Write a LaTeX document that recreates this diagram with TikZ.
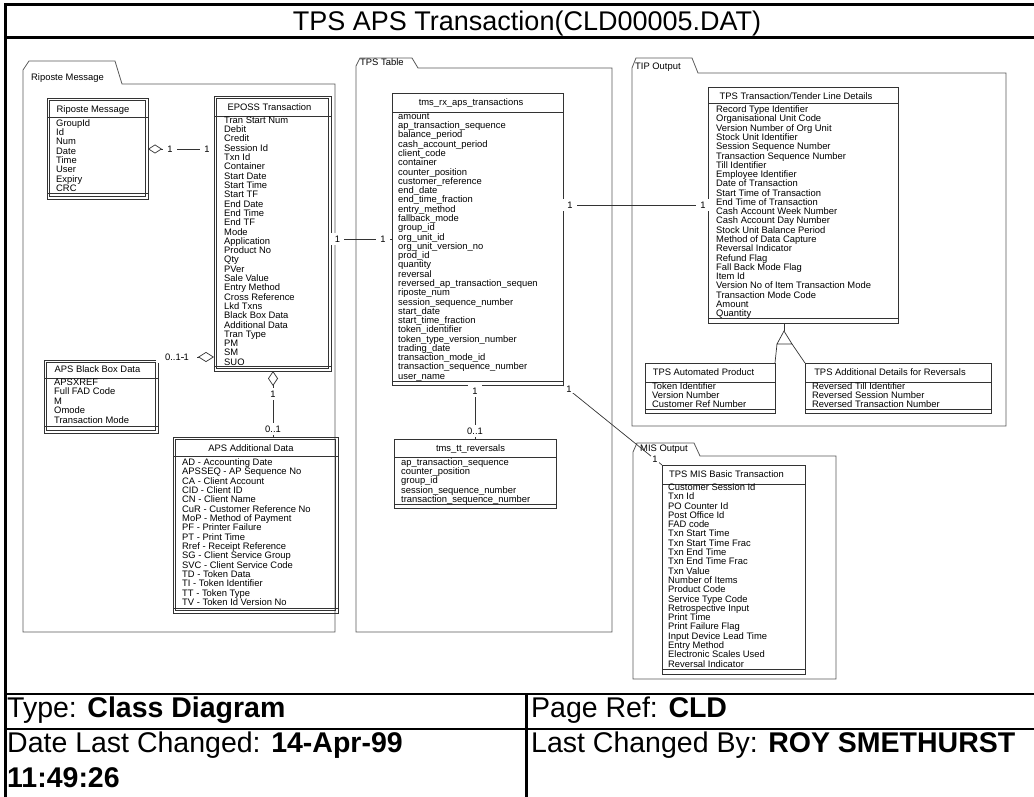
\documentclass[tikz,border=0pt]{standalone}
\usepackage{fontspec}
\setmainfont{Liberation Sans}
\usetikzlibrary{arrows.meta}
\newcommand\fs[1]{\fontsize{#1}{#1}\selectfont}
\newcommand\clsbox[8]{%
  \node[#2,minimum width={(#5)-(#3)},minimum height={(#6)-(#4)}] (#1) at (#3,#4) {};
  \draw[sepline] (#3,#7) -- (#5,#7);
  \draw[sepline] (#3,#8) -- (#5,#8);}
\newcommand\dclsbox[8]{%
  \clsbox{#1}{#2}{#3}{#4}{#5}{#6}{#7}{#8}%
  \draw[sepline] ({#3+2.2},{#4+2.2}) rectangle ({#5-2.2},{#6-2.2});}
\begin{document}
\begin{tikzpicture}[x=1pt,y=-1pt,
  pkg/.style={draw=black!65,line width=0.8pt},
  pkglabel/.style={font=\fs{9.4},inner sep=0pt,anchor=base west},
  cls/.style={draw=black!80,line width=0.7pt,inner sep=0pt,outer sep=0pt,anchor=north west},
  sepline/.style={draw=black!80,line width=0.7pt},
  hdr/.style={font=\fs{9.4},inner sep=0pt,anchor=base},
  attr/.style={font=\fs{9.4},inner sep=0pt,anchor=base west},
  assoc/.style={draw=black!80,line width=0.7pt},
  mult/.style={font=\fs{9.4},fill=white,inner xsep=4pt,inner ysep=3pt},
  big/.style={font=\fs{28.5},inner sep=0pt,anchor=base west},
]
\useasboundingbox (0,0) rectangle (1034,797);
% frame
\draw[line width=3.5pt] (5.3,797) -- (5.3,4.3) -- (1034,4.3);
\draw[line width=3pt] (5.3,38) -- (1034,38);
\draw[line width=2.3pt] (5.3,694) -- (1034,694);
\draw[line width=2.3pt] (5.3,729) -- (1034,729);
\draw[line width=2.3pt] (526.5,694) -- (526.5,797);
\node[font=\fs{27},inner sep=0pt,anchor=base] (title) at (527,31) {TPS APS Transaction(CLD00005.DAT)};
\node[big] (type) at (7,717) {Type: \textbf{Class Diagram}};
\node[big] (pref) at (531,717) {Page Ref: \textbf{CLD}};
\node[big] (date) at (7,752) {Date Last Changed: \textbf{14-Apr-99}};
\node[big] (time) at (7,787) {\textbf{11:49:26}};
\node[big] (by) at (531,752) {Last Changed By: \textbf{ROY SMETHURST}};
% packages
\draw[pkg] (23,632) -- (23,70) -- (29,61) -- (115,61) -- (122,84) -- (335,84) -- (335,632) -- cycle;
\node[pkglabel] (p1) at (31,80.4) {Riposte Message};
\draw[pkg] (356,632) -- (356,66) -- (360,58) -- (412,58) -- (418,68) -- (612,68) -- (612,632) -- cycle;
\node[pkglabel] (p2) at (360,65.4) {TPS Table};
\draw[pkg] (632,426) -- (632,68) -- (636,58) -- (692,58) -- (698,73) -- (1006,73) -- (1006,426) -- cycle;
\node[pkglabel] (p3) at (635,69.4) {TIP Output};
\draw[pkg] (633,679) -- (633,452) -- (637,443) -- (694,443) -- (700,456) -- (836,456) -- (836,679) -- cycle;
\node[pkglabel] (p4) at (640,451.4) {MIS Output};
% classes
\dclsbox{rip}{cls}{47}{98}{148}{199}{117}{193}
\node[hdr] (rip-h) at (93,112.4) {Riposte Message};
\foreach \t [count=\i from 0] in {GroupId,Id,Num,Date,Time,User,Expiry,CRC}
  \node[attr] (rip-a\i) at (56,{126.4+\i*9.3}) {\t};
\dclsbox{eposs}{cls}{214}{96}{331}{371}{116}{366}
\node[hdr] (eposs-h) at (269.5,110.4) {EPOSS Transaction};
\foreach \t [count=\i from 0] in {Tran Start Num,Debit,Credit,Session Id,Txn Id,Container,Start Date,Start Time,Start TF,End Date,End Time,End TF,Mode,Application,Product No,Qty,PVer,Sale Value,Entry Method,Cross Reference,Lkd Txns,Black Box Data,Additional Data,Tran Type,PM,SM,SUO}
  \node[attr] (eposs-a\i) at (224,{123.4+\i*9.3}) {\t};
\dclsbox{bb}{cls}{44}{360}{158}{433}{378}{426}
\node[hdr] (bb-h) at (97.5,372.4) {APS Black Box Data};
\foreach \t [count=\i from 0] in {APSXREF,Full FAD Code,M,Omode,Transaction Mode}
  \node[attr] (bb-a\i) at (54,{385.4+\i*9.5}) {\t};
\dclsbox{add}{cls}{173}{437}{338}{613}{456}{608}
\node[hdr] (add-h) at (251,451.4) {APS Additional Data};
\foreach \t [count=\i from 0] in {AD - Accounting Date,APSSEQ - AP Sequence No,CA - Client Account,CID - Client ID,CN - Client Name,CuR - Customer Reference No,MoP - Method of Payment,PF - Printer Failure,PT - Print Time,Rref - Receipt Reference,SG - Client Service Group,SVC - Client Service Code,TD - Token Data,TI - Token Identifier,TT - Token Type,TV - Token Id Version No}
  \node[attr] (add-a\i) at (182,{465.4+\i*9.33}) {\t};
\clsbox{rx}{cls}{392}{93}{563}{385}{112}{381}
\node[hdr] (rx-h) at (471,105.4) {tms\_rx\_aps\_transactions};
\foreach \t [count=\i from 0] in {amount,ap\_transaction\_sequence,balance\_period,cash\_account\_period,client\_code,container,counter\_position,customer\_reference,end\_date,end\_time\_fraction,entry\_method,fallback\_mode,group\_id,org\_unit\_id,org\_unit\_version\_no,prod\_id,quantity,reversal,reversed\_ap\_transaction\_sequen,riposte\_num,session\_sequence\_number,start\_date,start\_time\_fraction,token\_identifier,token\_type\_version\_number,trading\_date,transaction\_mode\_id,transaction\_sequence\_number,user\_name}
  \node[attr] (rx-a\i) at (398,{119.4+\i*9.28}) {\t};
\clsbox{rev}{cls}{394}{439}{556}{508}{457}{504}
\node[hdr] (rev-h) at (470.5,451.4) {tms\_tt\_reversals};
\foreach \t [count=\i from 0] in {ap\_transaction\_sequence,counter\_position,group\_id,session\_sequence\_number,transaction\_sequence\_number}
  \node[attr] (rev-a\i) at (401,{465.4+\i*9.25}) {\t};
\clsbox{tip}{cls}{708}{87}{898}{323}{103}{318}
\node[hdr] (tip-h) at (796,99.4) {TPS Transaction/Tender Line Details};
\foreach \t [count=\i from 0] in {Record Type Identifier,Organisational Unit Code,Version Number of Org Unit,Stock Unit Identifier,Session Sequence Number,Transaction Sequence Number,Till Identifier,Employee Identifier,Date of Transaction,Start Time of Transaction,End Time of Transaction,Cash Account Week Number,Cash Account Day Number,Stock Unit Balance Period,Method of Data Capture,Reversal Indicator,Refund Flag,Fall Back Mode Flag,Item Id,Version No of Item Transaction Mode,Transaction Mode Code,Amount,Quantity}
  \node[attr] (tip-a\i) at (716,{112.7+\i*9.27}) {\t};
\clsbox{ap}{cls}{645}{363}{775}{413}{382}{409}
\node[hdr] (ap-h) at (703.5,375.4) {TPS Automated Product};
\foreach \t [count=\i from 0] in {Token Identifier,Version Number,Customer Ref Number}
  \node[attr] (ap-a\i) at (652,{389.4+\i*9.2}) {\t};
\clsbox{rvd}{cls}{805}{363}{991}{413}{382}{409}
\node[hdr] (rvd-h) at (890,375.4) {TPS Additional Details for Reversals};
\foreach \t [count=\i from 0] in {Reversed Till Identifier,Reversed Session Number,Reversed Transaction Number}
  \node[attr] (rvd-a\i) at (812,{389.4+\i*9.2}) {\t};
\clsbox{mis}{cls}{662}{465}{805}{674}{484}{669}
\node[hdr] (mis-h) at (726.5,477.4) {TPS MIS Basic Transaction};
\foreach \t [count=\i from 0] in {Customer Session Id,Txn Id,PO Counter Id,Post Office Id,FAD code,Txn Start Time,Txn Start Time Frac,Txn End Time,Txn End Time Frac,Txn Value,Number of Items,Product Code,Service Type Code,Retrospective Input,Print Time,Print Failure Flag,Input Device Lead Time,Entry Method,Electronic Scales Used,Reversal Indicator}
  \node[attr] (mis-a\i) at (668,{490.4+\i*9.3}) {\t};
% helper coordinates
\coordinate (h149) at (0,149);
\coordinate (h357) at (0,357);
\coordinate (h239) at (0,239);
\coordinate (h205) at (0,205);
\coordinate (v273) at (273,0);
\coordinate (v475) at (475,0);
% connectors
\draw[assoc,{Diamond[open,length=14pt,width=9pt]}-] (rip.east |- h149) -- (eposs.west |- h149);
\node[mult] (m1a) at (170,149) {1};
\node[mult] (m1b) at (207,149) {1};
\draw[assoc,{Diamond[open,length=16pt,width=10pt]}-] (eposs.west |- h357) -- (bb.east |- h357);
\node[mult,anchor=east,inner xsep=0pt] (m2a) at (181,357) {\makebox[25pt][r]{0..1}};
\node[mult,anchor=west,inner xsep=0pt] (m2b) at (183.5,357) {\makebox[13pt][l]{1}};
\draw[assoc,{Diamond[open,length=15pt,width=10pt]}-] (eposs.south -| v273) -- (add.north -| v273);
\node[mult] (m3a) at (273,394) {1};
\node[mult] (m3b) at (273,429) {0..1};
\draw[assoc] (eposs.east |- h239) -- (rx.west |- h239);
\node[mult] (m4a) at (337.5,239) {1};
\node[mult] (m4b) at (383,239) {1};
\draw[assoc] (rx.east |- h205) -- (tip.west |- h205);
\node[mult] (m5a) at (570,205) {1};
\node[mult] (m5b) at (703,205) {1};
\draw[assoc] (rx.south -| v475) -- (rev.north -| v475);
\node[mult] (m6a) at (475,391) {1};
\node[mult] (m6b) at (475,431) {0..1};
\draw[assoc] (rx.south east) -- (mis.north west);
\node[mult,inner xsep=2pt,inner ysep=1pt] (m7a) at (569,389) {1};
\node[mult,inner xsep=1pt,inner ysep=0.5pt] (m7b) at (655,459.5) {1};
% generalization
\coordinate (gapex) at (784,331);
\coordinate (gl) at (777,344);
\coordinate (gr) at (792,344);
\draw[assoc] (gapex |- tip.south) -- (gapex);
\draw[assoc] (gapex) -- (gl) -- (gr) -- cycle;
\draw[assoc] (gl) -- (ap.north east);
\draw[assoc] (gr) -- (rvd.north west);
\end{tikzpicture}
\end{document}
